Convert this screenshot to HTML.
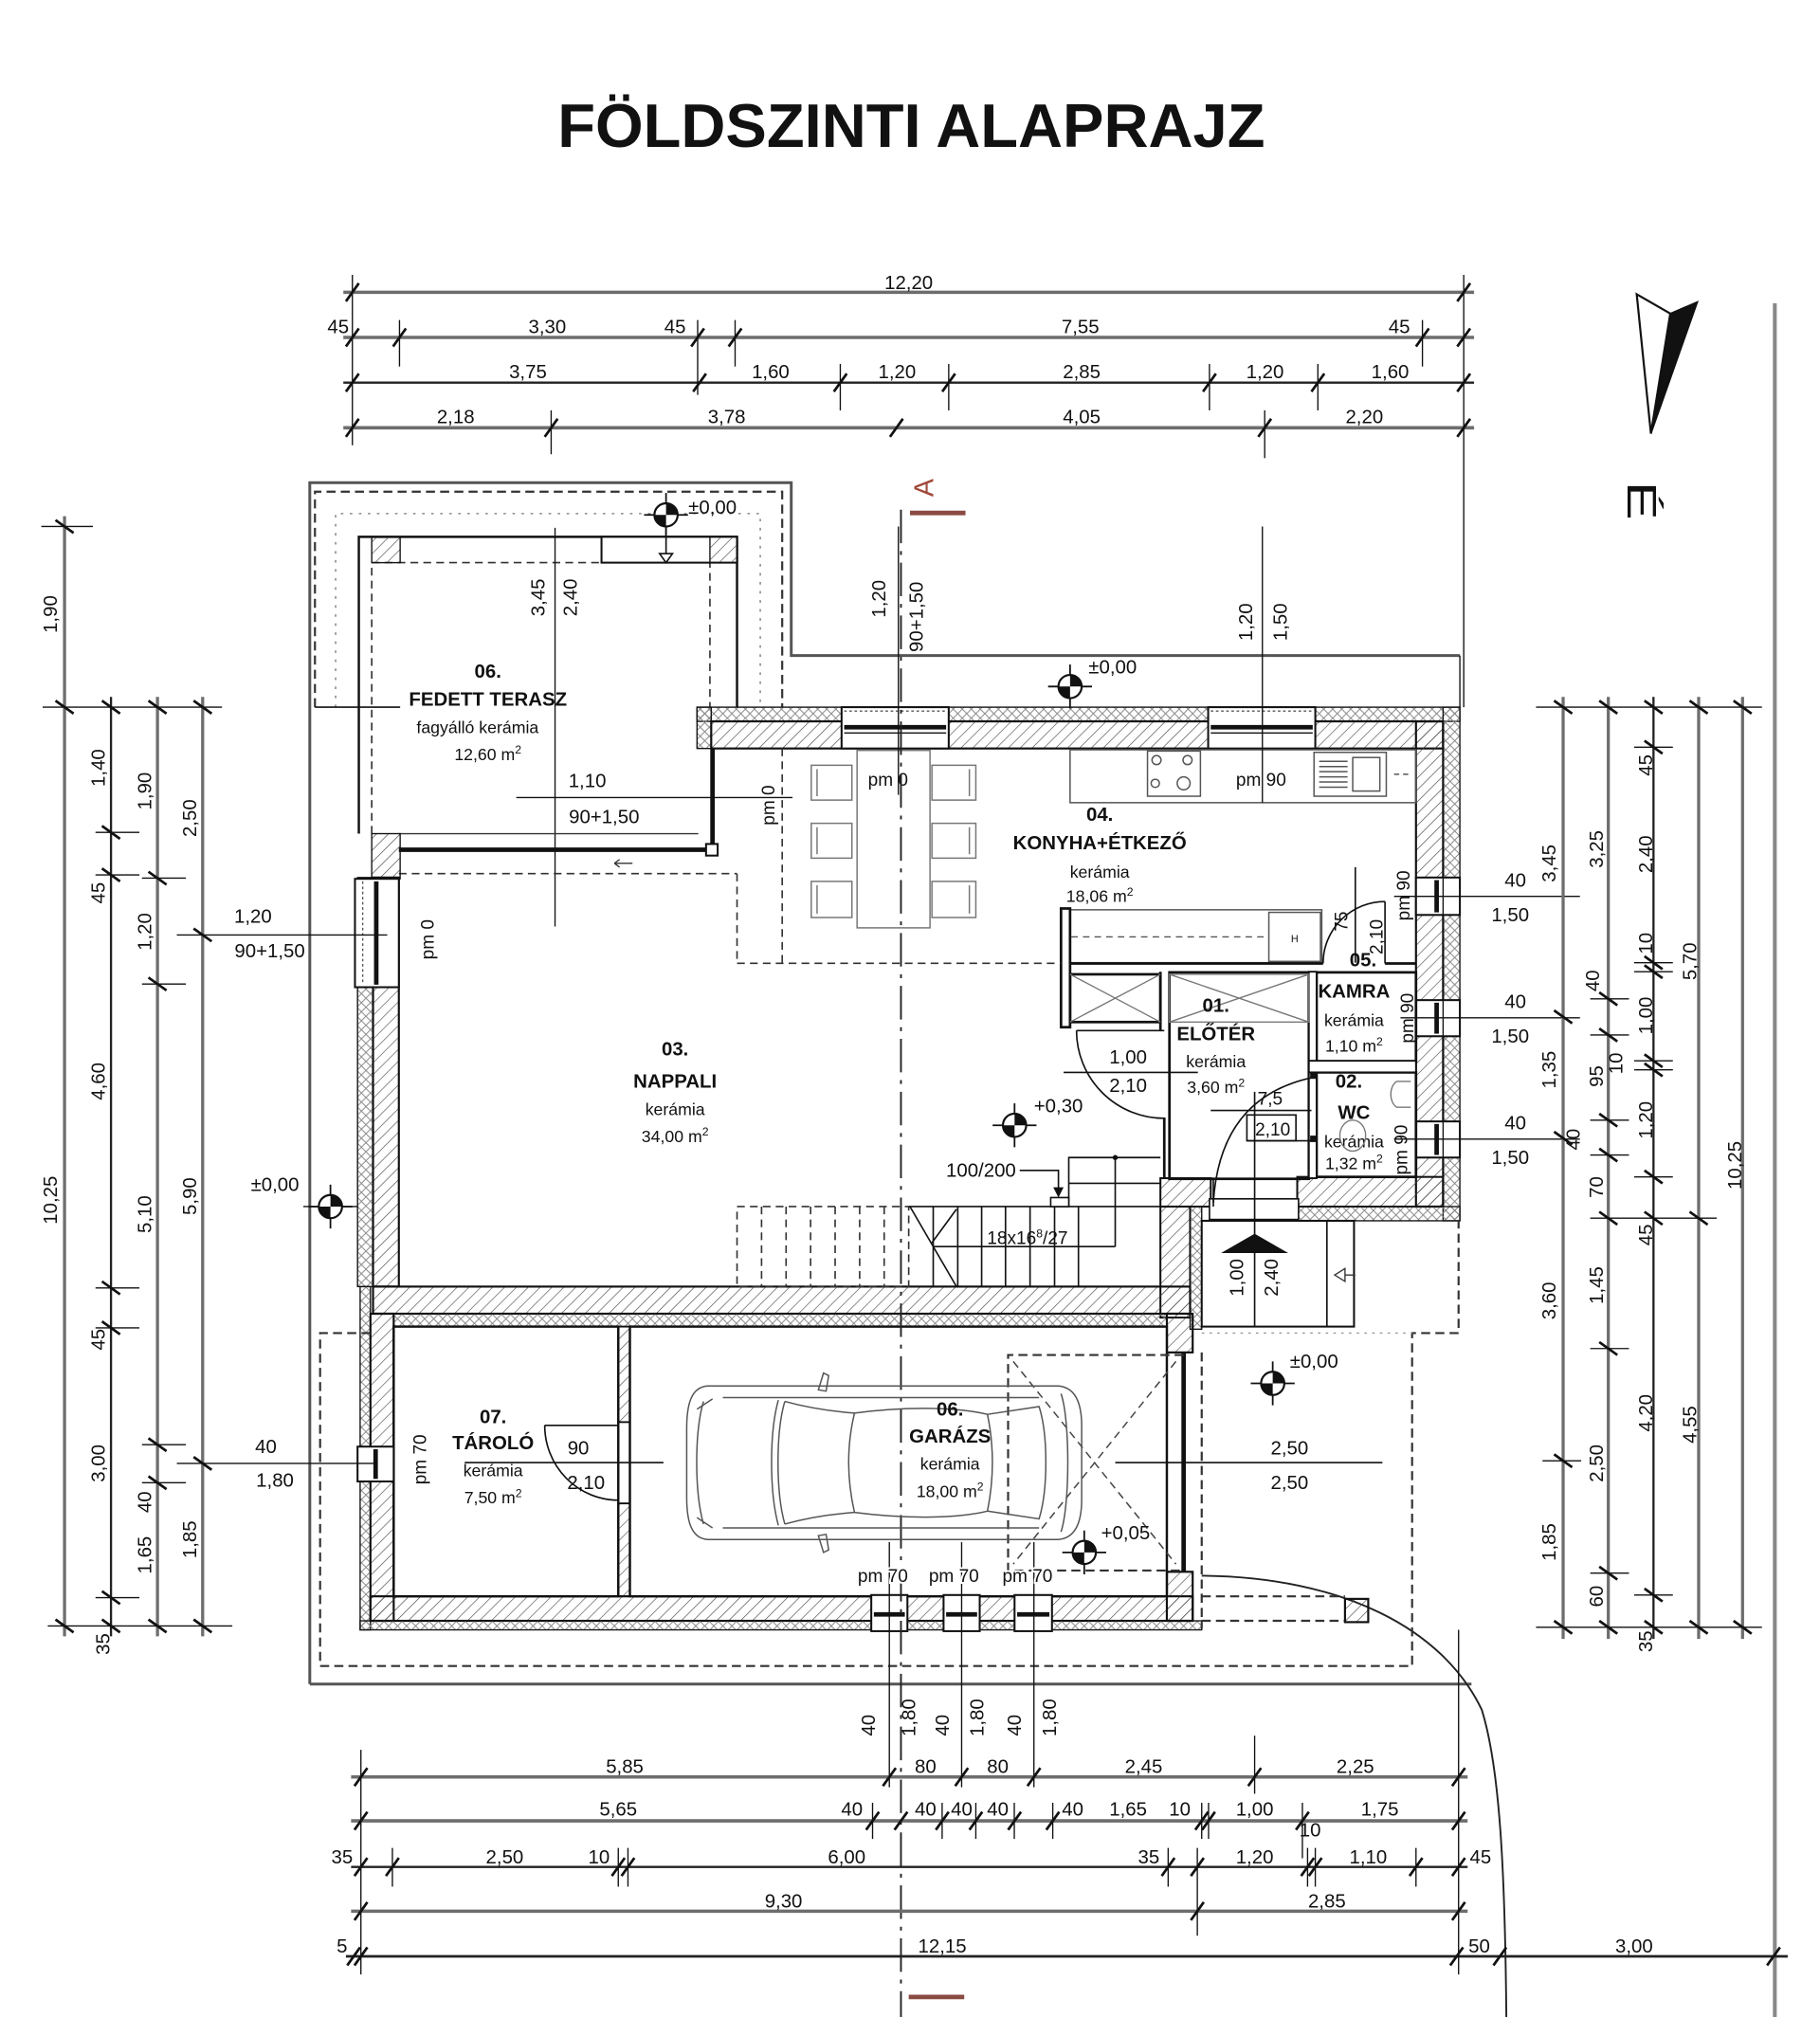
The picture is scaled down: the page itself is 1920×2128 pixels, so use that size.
<!DOCTYPE html>
<html><head><meta charset="utf-8">
<style>
html,body{margin:0;padding:0;background:#fff;}
svg{display:block;}
text{font-family:"Liberation Sans",Arial,sans-serif;fill:#111;}
.d{font-size:15px;}
.rb{font-size:15px;font-weight:bold;}
.rs{font-size:13px;}
.sm{font-size:14px;}
</style></head><body>
<svg width="1920" height="2128" viewBox="0 0 1410 1563" preserveAspectRatio="none" xmlns="http://www.w3.org/2000/svg">
<defs>
<pattern id="h" width="6.5" height="6.5" patternUnits="userSpaceOnUse" patternTransform="rotate(45)"><line x1="0" y1="0" x2="0" y2="6.5" stroke="#444" stroke-width="0.9"/></pattern>
<pattern id="x" width="7" height="7" patternUnits="userSpaceOnUse"><path d="M0,0 L7,7 M7,0 L0,7" stroke="#888" stroke-width="0.7" fill="none"/></pattern>
<line id="tk" x1="-5" y1="7" x2="5" y2="-7" stroke="#111" stroke-width="2"/>
<line id="tv" x1="-7" y1="-5" x2="7" y2="5" stroke="#111" stroke-width="2"/>
<g id="lv"><line x1="-17" y1="0" x2="17" y2="0" stroke="#111" stroke-width="1.3"/><line x1="0" y1="-17" x2="0" y2="17" stroke="#111" stroke-width="1.3"/><circle r="9" fill="#fff" stroke="#111" stroke-width="1.6"/><path d="M0,0 L0,-9 A9,9 0 0,1 9,0 Z M0,0 L0,9 A9,9 0 0,1 -9,0 Z" fill="#111"/></g>
</defs>

<!-- TITLE -->
<text x="706" y="114" font-size="48" font-weight="bold" text-anchor="middle" textLength="548" lengthAdjust="spacingAndGlyphs">FÖLDSZINTI ALAPRAJZ</text>

<!-- TOP DIMENSIONS -->
<g fill="none">
<line x1="266" y1="226.5" x2="1142" y2="226.5" stroke="#6d6d6d" stroke-width="2.6"/>
<line x1="266" y1="261.5" x2="1142" y2="261.5" stroke="#6d6d6d" stroke-width="2.6"/>
<line x1="266" y1="296.5" x2="1142" y2="296.5" stroke="#222" stroke-width="1.7"/>
<line x1="266" y1="331.5" x2="1142" y2="331.5" stroke="#6d6d6d" stroke-width="2.6"/>
<g stroke="#111" stroke-width="1">
<line x1="273" y1="213" x2="273" y2="345"/>
<line x1="1134" y1="213" x2="1134" y2="548"/>
<line x1="309.5" y1="248" x2="309.5" y2="284"/>
<line x1="540.5" y1="248" x2="540.5" y2="306"/>
<line x1="569.5" y1="248" x2="569.5" y2="284"/>
<line x1="1102" y1="248" x2="1102" y2="284"/>
<line x1="651" y1="282" x2="651" y2="318"/>
<line x1="735" y1="282" x2="735" y2="318"/>
<line x1="937" y1="282" x2="937" y2="318"/>
<line x1="1021" y1="282" x2="1021" y2="318"/>
<line x1="427" y1="318" x2="427" y2="352"/>
<line x1="979.8" y1="318" x2="979.8" y2="355"/>
</g>
</g>
<use href="#tk" x="273" y="226.5"/><use href="#tk" x="1134" y="226.5"/>
<use href="#tk" x="273" y="261.5"/><use href="#tk" x="309.5" y="261.5"/><use href="#tk" x="540.5" y="261.5"/><use href="#tk" x="569.5" y="261.5"/><use href="#tk" x="1102" y="261.5"/><use href="#tk" x="1134" y="261.5"/>
<use href="#tk" x="273" y="296.5"/><use href="#tk" x="542" y="296.5"/><use href="#tk" x="651" y="296.5"/><use href="#tk" x="735" y="296.5"/><use href="#tk" x="937" y="296.5"/><use href="#tk" x="1021" y="296.5"/><use href="#tk" x="1134" y="296.5"/>
<use href="#tk" x="273" y="331.5"/><use href="#tk" x="427" y="331.5"/><use href="#tk" x="694.5" y="331.5"/><use href="#tk" x="979.8" y="331.5"/><use href="#tk" x="1134" y="331.5"/>
<g class="d" text-anchor="middle">
<text x="704" y="224">12,20</text>
<text x="262" y="258">45</text><text x="424" y="258">3,30</text><text x="523" y="258">45</text><text x="837" y="258">7,55</text><text x="1084" y="258">45</text>
<text x="409" y="293">3,75</text><text x="597" y="293">1,60</text><text x="695" y="293">1,20</text><text x="838" y="293">2,85</text><text x="980" y="293">1,20</text><text x="1077" y="293">1,60</text>
<text x="353" y="328">2,18</text><text x="563" y="328">3,78</text><text x="838" y="328">4,05</text><text x="1057" y="328">2,20</text>
</g>

<!-- NORTH ARROW -->
<path d="M1268,228 L1294,243 L1279,336 Z" fill="#fff" stroke="#111" stroke-width="1.6"/>
<path d="M1294,243 L1315,234 L1279,336 Z" fill="#111" stroke="#111" stroke-width="1.2"/>
<text transform="translate(1272,388) rotate(90) scale(1.4,1)" y="11" font-size="32" text-anchor="middle">É</text>

<!-- SITE LINES -->
<g fill="none">
<path d="M240,1305 L240,374 L613,374 L613,508 L1131,508" stroke="#555" stroke-width="2.2"/>
<line x1="240" y1="1305" x2="1140" y2="1305" stroke="#555" stroke-width="2.2"/>
<line x1="1375" y1="235" x2="1375" y2="1563" stroke="#888" stroke-width="3"/>
<path d="M931,1221 C1040,1222 1118,1262 1148,1325 C1162,1370 1166,1450 1167,1563" stroke="#222" stroke-width="1.4"/>
</g>

<!-- TERRACE -->
<g fill="none">
<path d="M244,548 L244,381 L606,381 L606,548" stroke="#333" stroke-width="1.6" stroke-dasharray="7,4"/>
<path d="M260,548 L260,398 L589,398 L589,548" stroke="#777" stroke-width="1" stroke-dasharray="2,5"/>
<path d="M278,646 L278,416 L571,416 L571,548" stroke="#111" stroke-width="1.8"/>
<line x1="244" y1="548" x2="310" y2="548" stroke="#111" stroke-width="1.2"/>
<path d="M288,646 L288,436 L550,436 L550,548" stroke="#333" stroke-width="1.2" stroke-dasharray="6,4"/>
</g>
<rect x="466" y="416" width="105" height="20" fill="#fff" stroke="#111" stroke-width="1.5"/>
<rect x="288" y="416" width="22" height="20" fill="url(#h)" stroke="#111" stroke-width="1"/>
<rect x="550" y="416" width="21" height="20" fill="url(#h)" stroke="#111" stroke-width="1"/>
<line x1="516" y1="399" x2="516" y2="430" stroke="#111" stroke-width="1.2"/>
<path d="M511,429 L521,429 L516,436 Z" fill="#fff" stroke="#111" stroke-width="1.2"/>
<use href="#lv" x="516" y="399"/>
<text x="552" y="398" class="d" text-anchor="middle">±0,00</text>
<line x1="430" y1="409" x2="430" y2="718" stroke="#111" stroke-width="1"/>
<text class="d" transform="translate(417,463) rotate(-90)" y="5" text-anchor="middle">3,45</text>
<text class="d" transform="translate(442,463) rotate(-90)" y="5" text-anchor="middle">2,40</text>
<line x1="400" y1="618" x2="614" y2="618" stroke="#111" stroke-width="1"/>
<text x="455" y="610" class="d" text-anchor="middle">1,10</text>
<text x="468" y="638" class="d" text-anchor="middle">90+1,50</text>
<text x="378" y="525" class="rb" text-anchor="middle">06.</text>
<text x="378" y="547" class="rb" text-anchor="middle">FEDETT TERASZ</text>
<text x="370" y="568" class="rs" text-anchor="middle">fagyálló kerámia</text>
<text x="378" y="589" class="rs" text-anchor="middle">12,60 m<tspan dy="-5" font-size="9">2</tspan></text>
<text class="sm" transform="translate(595,624) rotate(-90)" y="5" text-anchor="middle">pm 0</text>

<!-- living north glazing -->
<line x1="309" y1="646" x2="541" y2="646" stroke="#333" stroke-width="1"/>
<line x1="309" y1="658.5" x2="552" y2="658.5" stroke="#111" stroke-width="3.5"/>
<line x1="309" y1="677" x2="571" y2="677" stroke="#333" stroke-width="1.2" stroke-dasharray="6,4"/>
<line x1="552" y1="580" x2="552" y2="660" stroke="#111" stroke-width="3.5"/>
<rect x="547" y="654" width="9" height="9" fill="#fff" stroke="#111" stroke-width="1.5"/>
<rect x="288" y="646" width="22" height="35" fill="url(#h)" stroke="#111" stroke-width="1"/>
<path d="M476,669 L490,669 M476,669 L480,666 M476,669 L480,672" stroke="#333" stroke-width="1" fill="none"/>

<!-- KITCHEN NORTH WALL -->
<rect x="540" y="548" width="591" height="11" fill="url(#x)" stroke="#111" stroke-width="1"/>
<rect x="540" y="548" width="11" height="32" fill="url(#x)" stroke="#111" stroke-width="1"/>
<rect x="551" y="559" width="567" height="21" fill="url(#h)" stroke="#111" stroke-width="1.6"/>
<g>
<rect x="652" y="548" width="83" height="32" fill="#fff" stroke="#111" stroke-width="1.5"/>
<line x1="654" y1="563.5" x2="733" y2="563.5" stroke="#111" stroke-width="3.5"/>
<line x1="654" y1="568" x2="733" y2="568" stroke="#111" stroke-width="1"/>
<line x1="654" y1="551" x2="733" y2="551" stroke="#555" stroke-width="1" stroke-dasharray="2,2"/>
<rect x="936" y="548" width="83" height="32" fill="#fff" stroke="#111" stroke-width="1.5"/>
<line x1="938" y1="563.5" x2="1017" y2="563.5" stroke="#111" stroke-width="3.5"/>
<line x1="938" y1="568" x2="1017" y2="568" stroke="#111" stroke-width="1"/>
<line x1="938" y1="551" x2="1017" y2="551" stroke="#555" stroke-width="1" stroke-dasharray="2,2"/>
</g>
<line x1="1131" y1="508" x2="1131" y2="548" stroke="#111" stroke-width="1"/>

<!-- EAST WALL -->
<rect x="1118" y="548" width="13" height="398" fill="url(#x)" stroke="#111" stroke-width="1"/>
<rect x="1097" y="559" width="21" height="376" fill="url(#h)" stroke="#111" stroke-width="1.6"/>
<g fill="#fff" stroke="#111">
<rect x="1097" y="680" width="34" height="29" stroke-width="1.5"/>
<rect x="1097" y="775" width="34" height="28" stroke-width="1.5"/>
<rect x="1097" y="869" width="34" height="28" stroke-width="1.5"/>
</g>
<g stroke="#111">
<line x1="1113" y1="682" x2="1113" y2="707" stroke-width="3.5"/><line x1="1118" y1="680" x2="1118" y2="709" stroke-width="1"/>
<line x1="1113" y1="777" x2="1113" y2="801" stroke-width="3.5"/><line x1="1118" y1="775" x2="1118" y2="803" stroke-width="1"/>
<line x1="1113" y1="871" x2="1113" y2="895" stroke-width="3.5"/><line x1="1118" y1="869" x2="1118" y2="897" stroke-width="1"/>
</g>

<!-- WC / entrance bottom walls -->
<rect x="1005" y="912" width="113" height="23" fill="url(#h)" stroke="#111" stroke-width="1.5"/>
<rect x="1005" y="935" width="126" height="11" fill="url(#x)" stroke="#111" stroke-width="1"/>
<rect x="899" y="913" width="39" height="22" fill="url(#h)" stroke="#111" stroke-width="1.5"/>
<rect x="899" y="935" width="23" height="86" fill="url(#h)" stroke="#111" stroke-width="1.5"/>
<rect x="922" y="935" width="9" height="95" fill="url(#x)" stroke="#111" stroke-width="1"/>
<rect x="937" y="929" width="69" height="16" fill="#fff" stroke="#111" stroke-width="1.2"/>

<!-- LIVING WEST WALL -->
<rect x="277" y="680" width="12" height="317" fill="url(#x)" stroke="#111" stroke-width="1"/>
<rect x="289" y="680" width="20" height="317" fill="url(#h)" stroke="#111" stroke-width="1.6"/>
<rect x="275" y="681" width="34" height="84" fill="#fff" stroke="#111" stroke-width="1.5"/>
<line x1="291.5" y1="683" x2="291.5" y2="763" stroke="#111" stroke-width="3.5"/>
<line x1="281" y1="683" x2="281" y2="763" stroke="#555" stroke-width="1" stroke-dasharray="2,2"/>

<!-- LIVING / GARAGE WALL -->
<rect x="289" y="997" width="633" height="21" fill="url(#h)" stroke="#111" stroke-width="1.6"/>
<rect x="305" y="1018" width="599" height="10" fill="url(#x)" stroke="#111" stroke-width="1"/>

<!-- GARAGE WALLS -->
<rect x="279" y="997" width="8" height="266" fill="url(#x)" stroke="#111" stroke-width="1"/>
<rect x="287" y="1018" width="18" height="238" fill="url(#h)" stroke="#111" stroke-width="1.6"/>
<rect x="287" y="1237" width="637" height="19" fill="url(#h)" stroke="#111" stroke-width="1.6"/>
<rect x="279" y="1256" width="652" height="7" fill="url(#x)" stroke="#111" stroke-width="1"/>
<rect x="904" y="1018" width="20" height="30" fill="url(#h)" stroke="#111" stroke-width="1.6"/>
<rect x="904" y="1218" width="20" height="38" fill="url(#h)" stroke="#111" stroke-width="1.6"/>
<line x1="917" y1="1048" x2="917" y2="1218" stroke="#111" stroke-width="3.5"/>
<rect x="305" y="1028" width="174" height="209" fill="#fff" stroke="#111" stroke-width="1.8"/>
<rect x="488" y="1028" width="416" height="209" fill="#fff" stroke="#111" stroke-width="1.8"/>
<rect x="479" y="1028" width="9" height="74" fill="url(#h)" stroke="#111" stroke-width="1.4"/>
<rect x="479" y="1165" width="9" height="72" fill="url(#h)" stroke="#111" stroke-width="1.4"/>
<rect x="277" y="1121" width="28" height="27" fill="#fff" stroke="#111" stroke-width="1.5"/>
<line x1="291" y1="1123" x2="291" y2="1146" stroke="#111" stroke-width="3.5"/>
<g fill="#fff" stroke="#111" stroke-width="1.5">
<rect x="675" y="1236" width="28" height="28"/><rect x="731" y="1236" width="28" height="28"/><rect x="786" y="1236" width="29" height="28"/>
</g>
<g stroke="#111" stroke-width="3.5">
<line x1="677" y1="1251" x2="701" y2="1251"/><line x1="733" y1="1251" x2="757" y2="1251"/><line x1="788" y1="1251" x2="813" y2="1251"/>
</g>
<line x1="675" y1="1246" x2="815" y2="1246" stroke="none"/>

<!-- DASHED OUTLINES -->
<g fill="none" stroke="#333" stroke-width="1.6" stroke-dasharray="7,4">
<path d="M287,1033 L248,1033 L248,1291 L1094,1291 L1094,1033 L1130,1033 L1130,946"/>
<line x1="931" y1="1048" x2="931" y2="1262"/>
<path d="M917,1050 L781,1050 L781,1217 L917,1217"/>
<line x1="931" y1="1237" x2="1042" y2="1237"/>
<line x1="931" y1="1256" x2="1042" y2="1256"/>
</g>
<line x1="931" y1="1033" x2="1094" y2="1033" stroke="#999" stroke-width="1" stroke-dasharray="2,4"/>
<g stroke="#444" stroke-width="1.1" stroke-dasharray="6,4" fill="none">
<line x1="785" y1="1055" x2="911" y2="1212"/>
<line x1="911" y1="1055" x2="785" y2="1212"/>
</g>
<rect x="1042" y="1239" width="18" height="18" fill="url(#h)" stroke="#111" stroke-width="1.6"/>

<!-- KITCHEN INTERIOR -->
<g fill="none" stroke="#555" stroke-width="1.1">
<rect x="829" y="581" width="268" height="41"/>
<rect x="889" y="582" width="41" height="35"/>
<circle cx="896" cy="589" r="3.5"/><circle cx="920" cy="589" r="3.5"/><circle cx="895" cy="607" r="3.2"/><circle cx="917" cy="607" r="5"/>
<rect x="1018" y="583" width="56" height="34"/>
<rect x="1048" y="587" width="21" height="26"/>
<path d="M1022,590 L1044,590 M1022,594 L1044,594 M1022,598 L1044,598 M1022,602 L1044,602 M1022,606 L1044,606 M1022,610 L1044,610"/>
<line x1="1080" y1="600" x2="1094" y2="600" stroke-dasharray="4,3"/>
<rect x="829" y="705" width="195" height="41"/>
<rect x="983" y="707" width="40" height="38"/>
</g>
<text x="1003" y="730" font-size="8" fill="#777" text-anchor="middle">H</text>
<line x1="830" y1="726" x2="983" y2="726" stroke="#555" stroke-width="1" stroke-dasharray="5,4"/>
<rect x="822" y="704" width="7" height="92" fill="#fff" stroke="#111" stroke-width="2"/>
<line x1="978" y1="408" x2="978" y2="622" stroke="#111" stroke-width="1"/>
<text x="977" y="609" class="sm" text-anchor="middle">pm 90</text>
<text x="852" y="636" class="rb" text-anchor="middle">04.</text>
<text x="852" y="658" class="rb" text-anchor="middle">KONYHA+ÉTKEZŐ</text>
<text x="852" y="680" class="rs" text-anchor="middle">kerámia</text>
<text x="852" y="699" class="rs" text-anchor="middle">18,06 m<tspan dy="-5" font-size="9">2</tspan></text>

<!-- DINING -->
<g fill="none" stroke="#333" stroke-width="1.2" stroke-dasharray="6,4">
<line x1="606" y1="580" x2="606" y2="746"/>
<line x1="571" y1="677" x2="571" y2="746"/>
<line x1="571" y1="746.5" x2="822" y2="746.5"/>
</g>
<g fill="#fff" stroke="#777" stroke-width="1.1">
<rect x="664" y="581.5" width="56.5" height="137.5"/>
<rect x="628.5" y="593" width="31.5" height="27"/><rect x="628.5" y="638" width="31.5" height="27"/><rect x="628.5" y="683" width="31.5" height="28"/>
<rect x="722" y="593" width="34" height="27"/><rect x="722" y="638" width="34" height="27"/><rect x="722" y="683" width="34" height="28"/>
<path d="M633,596 L633,617 M633,641 L633,662 M633,686 L633,708 M751,596 L751,617 M751,641 L751,662 M751,686 L751,708" fill="none"/>
</g>
<text x="688" y="609" class="sm" text-anchor="middle">pm 0</text>

<!-- SECTION LINE -->
<line x1="696" y1="408" x2="696" y2="616" stroke="#111" stroke-width="1"/>
<line x1="698" y1="395" x2="698" y2="1563" stroke="#222" stroke-width="1.4" stroke-dasharray="26,6,3,6"/>
<text transform="translate(716,378) rotate(-90)" y="7" font-size="21" fill="#a0483a" text-anchor="middle" style="fill:#a0483a">A</text>
<line x1="705" y1="397.5" x2="748" y2="397.5" stroke="#8a4a42" stroke-width="3.5"/>
<line x1="704" y1="1547.5" x2="747" y2="1547.5" stroke="#8a4a42" stroke-width="3.5"/>
<text transform="translate(718,1574) rotate(-90)" y="7" font-size="21" text-anchor="middle" style="fill:#a0483a">A</text>
<text class="d" transform="translate(681,464) rotate(-90)" y="5" text-anchor="middle">1,20</text>
<text class="d" transform="translate(710,478) rotate(-90)" y="5" text-anchor="middle">90+1,50</text>
<text class="d" transform="translate(965,482) rotate(-90)" y="5" text-anchor="middle">1,20</text>
<text class="d" transform="translate(992,482) rotate(-90)" y="5" text-anchor="middle">1,50</text>
<line x1="829" y1="515" x2="829" y2="548" stroke="#111" stroke-width="1"/>
<use href="#lv" x="829" y="532"/>
<text x="862" y="522" class="d" text-anchor="middle">±0,00</text>

<!-- LIVING ROOM -->
<text x="523" y="818" class="rb" text-anchor="middle">03.</text>
<text x="523" y="843" class="rb" text-anchor="middle">NAPPALI</text>
<text x="523" y="864" class="rs" text-anchor="middle">kerámia</text>
<text x="523" y="885" class="rs" text-anchor="middle">34,00 m<tspan dy="-5" font-size="9">2</tspan></text>
<text class="sm" transform="translate(331,728) rotate(-90)" y="5" text-anchor="middle">pm 0</text>
<line x1="137" y1="724.5" x2="300" y2="724.5" stroke="#111" stroke-width="1"/>
<text x="196" y="715" class="d" text-anchor="middle">1,20</text>
<text x="209" y="742" class="d" text-anchor="middle">90+1,50</text>
<line x1="235" y1="935" x2="277" y2="935" stroke="#111" stroke-width="1"/>
<use href="#lv" x="256" y="935"/>
<text x="213" y="923" class="d" text-anchor="middle">±0,00</text>
<line x1="137" y1="1134" x2="290" y2="1134" stroke="#111" stroke-width="1"/>
<text x="206" y="1126" class="d" text-anchor="middle">40</text>
<text x="213" y="1152" class="d" text-anchor="middle">1,80</text>

<!-- STAIR -->
<g fill="none" stroke="#333" stroke-width="1.2" stroke-dasharray="6,4">
<rect x="571" y="935" width="133" height="62"/>
<path d="M590,935 L590,997 M609,935 L609,997 M628,935 L628,997 M647,935 L647,997 M666,935 L666,997 M685,935 L685,997"/>
</g>
<g fill="none" stroke="#111" stroke-width="1.2">
<line x1="704" y1="935" x2="899" y2="935"/>
<path d="M723,935 L723,997 M742,935 L742,997 M760.5,935 L760.5,997 M779,935 L779,997 M798,935 L798,997 M817,935 L817,997 M835.5,935 L835.5,997"/>
<line x1="723" y1="966" x2="864" y2="966"/>
<line x1="864" y1="897" x2="864" y2="966"/>
<path d="M828,935 L828,897 L899,897 M828,917 L899,917"/>
<line x1="705" y1="935" x2="741" y2="997"/>
<line x1="722" y1="963" x2="741" y2="937"/>
<path d="M790,907 L820,907 L820,926"/>
</g>
<circle cx="864" cy="897" r="2" fill="#111"/>
<path d="M816,920 L824,920 L820,928 Z" fill="#111"/>
<rect x="814" y="928" width="14" height="7" fill="#fff" stroke="#111" stroke-width="1.2"/>
<text x="796" y="964" class="sm" text-anchor="middle">18x16<tspan dy="-5" font-size="9">8</tspan><tspan dy="5">/27</tspan></text>
<text x="760" y="912" class="d" text-anchor="middle">100/200</text>
<use href="#lv" x="786" y="872"/>
<text x="820" y="862" class="d" text-anchor="middle">+0,30</text>

<!-- ELŐTÉR / KAMRA / WC -->
<g fill="none" stroke="#111" stroke-width="2">
<line x1="829" y1="746.6" x2="1025" y2="746.6"/>
<line x1="1073" y1="746.6" x2="1097" y2="746.6"/>
<rect x="906" y="753.5" width="108" height="160"/>
<rect x="1020" y="753.5" width="77" height="69"/>
<rect x="1020" y="831" width="77" height="81"/>
<rect x="829" y="755" width="70" height="37"/>
<line x1="899" y1="753" x2="899" y2="798"/>
<line x1="902" y1="866" x2="902" y2="913"/>
</g>
<rect x="1014" y="753" width="6" height="160" fill="#fff" stroke="#111" stroke-width="1.4"/>
<rect x="1014" y="822" width="83" height="9" fill="#fff" stroke="#111" stroke-width="1.4"/>
<g stroke="#777" stroke-width="1" fill="none">
<path d="M829,755 L899,792 M899,755 L829,792"/>
<rect x="906" y="755" width="108" height="37"/>
<path d="M906,755 L1014,792 M1014,755 L906,792"/>
</g>
<g fill="none" stroke="#111" stroke-width="1.2">
<line x1="834" y1="798.6" x2="902" y2="798.6"/>
<path d="M834,798.6 A68,68 0 0,0 902,866.6"/>
<line x1="824" y1="831" x2="928" y2="831"/>
<path d="M1025,746.6 A48,48 0 0,1 1073,698.6"/>
<line x1="1073" y1="698.6" x2="1073" y2="746.6"/>
<line x1="1050" y1="672" x2="1050" y2="746"/>
<path d="M1017,835 Q945,850 940,932"/>
<line x1="940" y1="913" x2="940" y2="935"/>
<line x1="938" y1="860.5" x2="1016" y2="860.5"/>
<rect x="966" y="864" width="38" height="20"/>
<line x1="966" y1="884" x2="1016" y2="884"/>
<line x1="972" y1="846" x2="972" y2="1028"/>
</g>
<rect x="1015" y="831" width="5" height="5" fill="#111"/><rect x="1015" y="880" width="5" height="5" fill="#111"/>
<text x="874" y="824" class="d" text-anchor="middle">1,00</text>
<text x="874" y="846" class="d" text-anchor="middle">2,10</text>
<text x="942" y="784" class="rb" text-anchor="middle">01.</text>
<text x="942" y="806" class="rb" text-anchor="middle">ELŐTÉR</text>
<text x="942" y="827" class="rs" text-anchor="middle">kerámia</text>
<text x="942" y="847" class="rs" text-anchor="middle">3,60 m<tspan dy="-5" font-size="9">2</tspan></text>
<text x="984" y="856" class="sm" text-anchor="middle">7,5</text>
<text x="986" y="880" class="sm" text-anchor="middle">2,10</text>
<text class="sm" transform="translate(1039,714) rotate(-90)" y="5" text-anchor="middle">75</text>
<text class="sm" transform="translate(1066,726) rotate(-90)" y="5" text-anchor="middle">2,10</text>
<text x="1056" y="749" class="rb" text-anchor="middle">05.</text>
<text x="1049" y="773" class="rb" text-anchor="middle">KAMRA</text>
<text x="1049" y="795" class="rs" text-anchor="middle">kerámia</text>
<text x="1049" y="815" class="rs" text-anchor="middle">1,10 m<tspan dy="-5" font-size="9">2</tspan></text>
<text x="1045" y="843" class="rb" text-anchor="middle">02.</text>
<text x="1049" y="867" class="rb" text-anchor="middle">WC</text>
<text x="1049" y="889" class="rs" text-anchor="middle">kerámia</text>
<text x="1049" y="906" class="rs" text-anchor="middle">1,32 m<tspan dy="-5" font-size="9">2</tspan></text>
<ellipse cx="1048" cy="880" rx="10" ry="12" fill="none" stroke="#777" stroke-width="1"/>
<path d="M1093,838 L1082,838 C1076,842 1076,854 1082,858 L1093,858" fill="none" stroke="#777" stroke-width="1"/>
<text class="sm" transform="translate(1087,694) rotate(-90)" y="5" text-anchor="middle">pm 90</text>
<text class="sm" transform="translate(1090,789) rotate(-90)" y="5" text-anchor="middle">pm 90</text>
<text class="sm" transform="translate(1085,891) rotate(-90)" y="5" text-anchor="middle">pm 90</text>
<g stroke="#111" stroke-width="1">
<line x1="1080" y1="694.6" x2="1224" y2="694.6"/>
<line x1="1085" y1="788.7" x2="1224" y2="788.7"/>
<line x1="1080" y1="882.7" x2="1224" y2="882.7"/>
</g>
<g class="d" text-anchor="middle">
<text x="1174" y="687">40</text><text x="1170" y="714">1,50</text>
<text x="1174" y="781">40</text><text x="1170" y="808">1,50</text>
<text x="1174" y="875">40</text><text x="1170" y="902">1,50</text>
</g>

<!-- ENTRANCE -->
<rect x="931" y="946" width="118" height="82" fill="none" stroke="#111" stroke-width="1.5"/>
<line x1="1028" y1="946" x2="1028" y2="1028" stroke="#111" stroke-width="1.2"/>
<path d="M946,971 L998,971 L972,956 Z" fill="#111"/>
<path d="M1034,988 L1042,983 L1042,993 Z M1042,988 L1050,988" fill="none" stroke="#333" stroke-width="1"/>
<text class="d" transform="translate(958,990) rotate(-90)" y="5" text-anchor="middle">1,00</text>
<text class="d" transform="translate(985,990) rotate(-90)" y="5" text-anchor="middle">2,40</text>

<!-- STORAGE / GARAGE -->
<g fill="none" stroke="#111" stroke-width="1.2">
<line x1="422" y1="1104.5" x2="479" y2="1104.5"/>
<path d="M422,1104.5 A57,58 0 0,0 479,1162.5"/>
<line x1="360" y1="1133.4" x2="514" y2="1133.4"/>
<line x1="864" y1="1133.4" x2="1071" y2="1133.4"/>
</g>
<text x="382" y="1103" class="rb" text-anchor="middle">07.</text>
<text x="382" y="1123" class="rb" text-anchor="middle">TÁROLÓ</text>
<text x="382" y="1144" class="rs" text-anchor="middle">kerámia</text>
<text x="382" y="1165" class="rs" text-anchor="middle">7,50 m<tspan dy="-5" font-size="9">2</tspan></text>
<text x="448" y="1127" class="d" text-anchor="middle">90</text>
<text x="454" y="1154" class="d" text-anchor="middle">2,10</text>
<text class="sm" transform="translate(325,1131) rotate(-90)" y="5" text-anchor="middle">pm 70</text>

<!-- CAR -->
<g fill="none" stroke="#555" stroke-width="1.1">
<path d="M548,1074 L820,1074 C832,1075 838,1085 838,1105 L838,1162 C838,1182 832,1192 820,1193 L548,1193 C536,1192 532,1180 532,1160 L532,1107 C532,1087 536,1075 548,1074 Z"/>
<path d="M560,1083 L805,1083 M560,1184 L805,1184"/>
<path d="M545,1086 C538,1110 538,1156 545,1181"/>
<path d="M603,1085 C596,1110 596,1156 603,1182 M608,1086 C601,1110 601,1156 608,1181"/>
<path d="M662,1095 C700,1090 740,1090 765,1096 C770,1120 770,1146 765,1171 C740,1177 700,1177 662,1172 C656,1146 656,1120 662,1095 Z"/>
<path d="M765,1096 L805,1090 C812,1112 812,1154 805,1177 L765,1171"/>
<path d="M608,1086 C630,1092 648,1094 662,1095 M608,1181 C630,1175 648,1173 662,1172"/>
<path d="M822,1080 C829,1100 829,1166 822,1187"/>
<path d="M634,1077 L638,1064 L642,1066 L640,1078 Z M634,1190 L638,1203 L642,1201 L640,1189 Z"/>
<path d="M540,1092 L552,1084 M540,1176 L552,1184"/>
</g>
<text x="736" y="1097" class="rb" text-anchor="middle">06.</text>
<text x="736" y="1118" class="rb" text-anchor="middle">GARÁZS</text>
<text x="736" y="1139" class="rs" text-anchor="middle">kerámia</text>
<text x="736" y="1160" class="rs" text-anchor="middle">18,00 m<tspan dy="-5" font-size="9">2</tspan></text>
<g stroke="#111" stroke-width="1">
<line x1="689" y1="1195" x2="689" y2="1385"/><line x1="745" y1="1195" x2="745" y2="1385"/><line x1="801" y1="1195" x2="801" y2="1385"/>
</g>
<g class="sm" text-anchor="middle">
<text x="684" y="1226" style="paint-order:stroke" stroke="#fff" stroke-width="3">pm 70</text>
<text x="739" y="1226" style="paint-order:stroke" stroke="#fff" stroke-width="3">pm 70</text>
<text x="796" y="1226" style="paint-order:stroke" stroke="#fff" stroke-width="3">pm 70</text>
</g>
<use href="#lv" x="840" y="1203"/>
<text x="872" y="1193" class="d" text-anchor="middle">+0,05</text>
<use href="#lv" x="986" y="1072"/>
<text x="1018" y="1060" class="d" text-anchor="middle">±0,00</text>
<text x="999" y="1127" class="d" text-anchor="middle">2,50</text>
<text x="999" y="1154" class="d" text-anchor="middle">2,50</text>

<!-- LEFT DIMENSIONS -->
<g>
<line x1="50" y1="400" x2="50" y2="1268" stroke="#6d6d6d" stroke-width="2.4"/>
<line x1="86" y1="540" x2="86" y2="1268" stroke="#222" stroke-width="1.7"/>
<line x1="122" y1="540" x2="122" y2="1268" stroke="#6d6d6d" stroke-width="2.4"/>
<line x1="157" y1="540" x2="157" y2="1268" stroke="#6d6d6d" stroke-width="2.4"/>
<g stroke="#111" stroke-width="1">
<line x1="32" y1="408" x2="72" y2="408"/>
<line x1="33" y1="548" x2="172" y2="548"/>
<line x1="37" y1="1260" x2="180" y2="1260"/>
<line x1="74" y1="645" x2="108" y2="645"/><line x1="74" y1="678" x2="108" y2="678"/><line x1="74" y1="998" x2="108" y2="998"/><line x1="74" y1="1029" x2="108" y2="1029"/><line x1="74" y1="1238" x2="108" y2="1238"/>
<line x1="110" y1="680.5" x2="144" y2="680.5"/><line x1="110" y1="762.5" x2="144" y2="762.5"/><line x1="110" y1="1119.5" x2="144" y2="1119.5"/><line x1="110" y1="1149" x2="144" y2="1149"/>
</g>
<use href="#tv" x="50" y="408"/><use href="#tv" x="50" y="548"/><use href="#tv" x="50" y="1260"/>
<use href="#tv" x="86" y="548"/><use href="#tv" x="86" y="645"/><use href="#tv" x="86" y="678"/><use href="#tv" x="86" y="998"/><use href="#tv" x="86" y="1029"/><use href="#tv" x="86" y="1238"/><use href="#tv" x="86" y="1260"/>
<use href="#tv" x="122" y="548"/><use href="#tv" x="122" y="680.5"/><use href="#tv" x="122" y="762.5"/><use href="#tv" x="122" y="1119.5"/><use href="#tv" x="122" y="1149"/><use href="#tv" x="122" y="1260"/>
<use href="#tv" x="157" y="548"/><use href="#tv" x="157" y="724.5"/><use href="#tv" x="157" y="1134"/><use href="#tv" x="157" y="1260"/>
<g class="d" text-anchor="middle">
<text transform="translate(39,476) rotate(-90)" y="5">1,90</text>
<text transform="translate(39,930) rotate(-90)" y="5">10,25</text>
<text transform="translate(76,595) rotate(-90)" y="5">1,40</text>
<text transform="translate(76,692) rotate(-90)" y="5">45</text>
<text transform="translate(76,838) rotate(-90)" y="5">4,60</text>
<text transform="translate(76,1038) rotate(-90)" y="5">45</text>
<text transform="translate(76,1134) rotate(-90)" y="5">3,00</text>
<text transform="translate(80,1274) rotate(-90)" y="5">35</text>
<text transform="translate(112,613) rotate(-90)" y="5">1,90</text>
<text transform="translate(112,722) rotate(-90)" y="5">1,20</text>
<text transform="translate(112,941) rotate(-90)" y="5">5,10</text>
<text transform="translate(112,1164) rotate(-90)" y="5">40</text>
<text transform="translate(112,1205) rotate(-90)" y="5">1,65</text>
<text transform="translate(147,634) rotate(-90)" y="5">2,50</text>
<text transform="translate(147,927) rotate(-90)" y="5">5,90</text>
<text transform="translate(147,1193) rotate(-90)" y="5">1,85</text>
</g>
</g>

<!-- RIGHT DIMENSIONS -->
<g>
<line x1="1211" y1="540" x2="1211" y2="1270" stroke="#6d6d6d" stroke-width="2.4"/>
<line x1="1246" y1="540" x2="1246" y2="1270" stroke="#6d6d6d" stroke-width="2.4"/>
<line x1="1281" y1="540" x2="1281" y2="1270" stroke="#222" stroke-width="1.7"/>
<line x1="1316" y1="540" x2="1316" y2="1270" stroke="#6d6d6d" stroke-width="2.4"/>
<line x1="1350" y1="540" x2="1350" y2="1270" stroke="#6d6d6d" stroke-width="2.4"/>
<g stroke="#111" stroke-width="1">
<line x1="1190" y1="548" x2="1365" y2="548"/>
<line x1="1190" y1="1261" x2="1365" y2="1261"/>
<line x1="1232" y1="774" x2="1262" y2="774"/><line x1="1232" y1="802" x2="1262" y2="802"/><line x1="1232" y1="868" x2="1262" y2="868"/><line x1="1232" y1="895" x2="1262" y2="895"/><line x1="1232" y1="944" x2="1330" y2="944"/><line x1="1232" y1="1045" x2="1262" y2="1045"/><line x1="1232" y1="1219" x2="1262" y2="1219"/>
<line x1="1266" y1="579" x2="1296" y2="579"/><line x1="1266" y1="746" x2="1296" y2="746"/><line x1="1266" y1="753" x2="1296" y2="753"/><line x1="1266" y1="822" x2="1296" y2="822"/><line x1="1266" y1="829" x2="1296" y2="829"/><line x1="1266" y1="912" x2="1296" y2="912"/><line x1="1266" y1="1236" x2="1296" y2="1236"/>
<line x1="1195" y1="1132" x2="1225" y2="1132"/>
</g>
<use href="#tv" x="1211" y="548"/><use href="#tv" x="1211" y="788"/><use href="#tv" x="1211" y="882"/><use href="#tv" x="1211" y="1132"/><use href="#tv" x="1211" y="1261"/>
<use href="#tv" x="1246" y="548"/><use href="#tv" x="1246" y="774"/><use href="#tv" x="1246" y="802"/><use href="#tv" x="1246" y="868"/><use href="#tv" x="1246" y="895"/><use href="#tv" x="1246" y="944"/><use href="#tv" x="1246" y="1045"/><use href="#tv" x="1246" y="1219"/><use href="#tv" x="1246" y="1261"/>
<use href="#tv" x="1281" y="548"/><use href="#tv" x="1281" y="579"/><use href="#tv" x="1281" y="746"/><use href="#tv" x="1281" y="753"/><use href="#tv" x="1281" y="822"/><use href="#tv" x="1281" y="829"/><use href="#tv" x="1281" y="912"/><use href="#tv" x="1281" y="944"/><use href="#tv" x="1281" y="1236"/><use href="#tv" x="1281" y="1261"/>
<use href="#tv" x="1316" y="548"/><use href="#tv" x="1316" y="944"/><use href="#tv" x="1316" y="1261"/>
<use href="#tv" x="1350" y="548"/><use href="#tv" x="1350" y="1261"/>
<g class="d" text-anchor="middle">
<text transform="translate(1200,669) rotate(-90)" y="5">3,45</text>
<text transform="translate(1200,829) rotate(-90)" y="5">1,35</text>
<text transform="translate(1200,1008) rotate(-90)" y="5">3,60</text>
<text transform="translate(1200,1195) rotate(-90)" y="5">1,85</text>
<text transform="translate(1219,883) rotate(-90)" y="5">40</text>
<text transform="translate(1237,658) rotate(-90)" y="5">3,25</text>
<text transform="translate(1234,760) rotate(-90)" y="5">40</text>
<text transform="translate(1237,834) rotate(-90)" y="5">95</text>
<text transform="translate(1252,824) rotate(-90)" y="5">10</text>
<text transform="translate(1237,920) rotate(-90)" y="5">70</text>
<text transform="translate(1237,996) rotate(-90)" y="5">1,45</text>
<text transform="translate(1237,1134) rotate(-90)" y="5">2,50</text>
<text transform="translate(1237,1237) rotate(-90)" y="5">60</text>
<text transform="translate(1275,593) rotate(-90)" y="5">45</text>
<text transform="translate(1275,662) rotate(-90)" y="5">2,40</text>
<text transform="translate(1275,731) rotate(-90)" y="5">10</text>
<text transform="translate(1275,787) rotate(-90)" y="5">1,00</text>
<text transform="translate(1275,868) rotate(-90)" y="5">1,20</text>
<text transform="translate(1275,957) rotate(-90)" y="5">45</text>
<text transform="translate(1275,1095) rotate(-90)" y="5">4,20</text>
<text transform="translate(1275,1272) rotate(-90)" y="5">35</text>
<text transform="translate(1309,745) rotate(-90)" y="5">5,70</text>
<text transform="translate(1309,1104) rotate(-90)" y="5">4,55</text>
<text transform="translate(1344,903) rotate(-90)" y="5">10,25</text>
</g>
</g>

<!-- BOTTOM DIMENSIONS -->
<g>
<line x1="272" y1="1377" x2="1137" y2="1377" stroke="#6d6d6d" stroke-width="2.6"/>
<line x1="272" y1="1411" x2="1137" y2="1411" stroke="#6d6d6d" stroke-width="2.6"/>
<line x1="272" y1="1446.7" x2="1137" y2="1446.7" stroke="#222" stroke-width="1.7"/>
<line x1="272" y1="1481" x2="1137" y2="1481" stroke="#6d6d6d" stroke-width="2.6"/>
<line x1="268" y1="1516" x2="1385" y2="1516" stroke="#222" stroke-width="2"/>
<g stroke="#111" stroke-width="1">
<line x1="279.6" y1="1356" x2="279.6" y2="1530"/>
<line x1="1130" y1="1263" x2="1130" y2="1530"/>
<line x1="972" y1="1345" x2="972" y2="1390"/>
<line x1="676" y1="1397" x2="676" y2="1425"/><line x1="729.9" y1="1397" x2="729.9" y2="1425"/><line x1="756" y1="1397" x2="756" y2="1425"/><line x1="785.8" y1="1397" x2="785.8" y2="1425"/><line x1="815.6" y1="1397" x2="815.6" y2="1425"/><line x1="931" y1="1397" x2="931" y2="1425"/><line x1="936.3" y1="1397" x2="936.3" y2="1425"/><line x1="1009" y1="1397" x2="1009" y2="1440"/>
<line x1="304" y1="1432" x2="304" y2="1462"/><line x1="479" y1="1432" x2="479" y2="1462"/><line x1="486.5" y1="1432" x2="486.5" y2="1462"/><line x1="905" y1="1432" x2="905" y2="1462"/><line x1="927.6" y1="1432" x2="927.6" y2="1500"/><line x1="1013" y1="1432" x2="1013" y2="1462"/><line x1="1019" y1="1432" x2="1019" y2="1462"/><line x1="1097" y1="1432" x2="1097" y2="1462"/>
</g>
<use href="#tk" x="279.6" y="1377"/><use href="#tk" x="689" y="1377"/><use href="#tk" x="745" y="1377"/><use href="#tk" x="801" y="1377"/><use href="#tk" x="972" y="1377"/><use href="#tk" x="1130" y="1377"/>
<use href="#tk" x="279.6" y="1411"/><use href="#tk" x="676" y="1411"/><use href="#tk" x="698" y="1411"/><use href="#tk" x="730" y="1411"/><use href="#tk" x="756" y="1411"/><use href="#tk" x="786" y="1411"/><use href="#tk" x="815.6" y="1411"/><use href="#tk" x="931" y="1411"/><use href="#tk" x="936.3" y="1411"/><use href="#tk" x="1009" y="1411"/><use href="#tk" x="1130" y="1411"/>
<use href="#tk" x="279.6" y="1446.7"/><use href="#tk" x="304" y="1446.7"/><use href="#tk" x="479" y="1446.7"/><use href="#tk" x="486.5" y="1446.7"/><use href="#tk" x="905" y="1446.7"/><use href="#tk" x="927.6" y="1446.7"/><use href="#tk" x="1013" y="1446.7"/><use href="#tk" x="1019" y="1446.7"/><use href="#tk" x="1097" y="1446.7"/><use href="#tk" x="1130" y="1446.7"/>
<use href="#tk" x="279.6" y="1481"/><use href="#tk" x="927.6" y="1481"/><use href="#tk" x="1130" y="1481"/>
<use href="#tk" x="274" y="1516"/><use href="#tk" x="279.6" y="1516"/><use href="#tk" x="1128.5" y="1516"/><use href="#tk" x="1162" y="1516"/><use href="#tk" x="1374" y="1516"/>
<g class="d" text-anchor="middle">
<text x="484" y="1374">5,85</text><text x="717" y="1374">80</text><text x="773" y="1374">80</text><text x="886" y="1374">2,45</text><text x="1050" y="1374">2,25</text>
<text x="479" y="1407">5,65</text><text x="660" y="1407">40</text><text x="717" y="1407">40</text><text x="745" y="1407">40</text><text x="773" y="1407">40</text><text x="831" y="1407">40</text><text x="874" y="1407">1,65</text><text x="914" y="1407">10</text><text x="972" y="1407">1,00</text><text x="1015" y="1423">10</text><text x="1069" y="1407">1,75</text>
<text x="265" y="1444">35</text><text x="391" y="1444">2,50</text><text x="464" y="1444">10</text><text x="656" y="1444">6,00</text><text x="890" y="1444">35</text><text x="972" y="1444">1,20</text><text x="1060" y="1444">1,10</text><text x="1147" y="1444">45</text>
<text x="607" y="1478">9,30</text><text x="1028" y="1478">2,85</text>
<text x="265" y="1513">5</text><text x="730" y="1513">12,15</text><text x="1146" y="1513">50</text><text x="1266" y="1513">3,00</text>
<text transform="translate(673,1337) rotate(-90)" y="5">40</text>
<text transform="translate(704,1331) rotate(-90)" y="5">1,80</text>
<text transform="translate(730,1337) rotate(-90)" y="5">40</text>
<text transform="translate(757,1331) rotate(-90)" y="5">1,80</text>
<text transform="translate(786,1337) rotate(-90)" y="5">40</text>
<text transform="translate(813,1331) rotate(-90)" y="5">1,80</text>
</g>
</g>
</svg>
</body></html>
